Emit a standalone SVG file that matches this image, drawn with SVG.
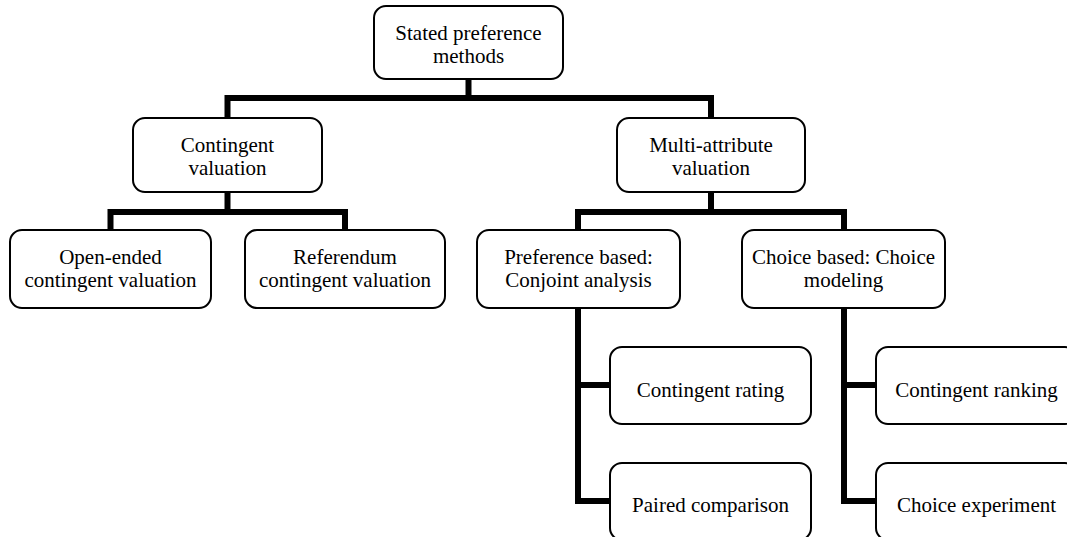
<svg xmlns="http://www.w3.org/2000/svg" width="1067" height="537" viewBox="0 0 1067 537">
<style>
.box{fill:#fff;stroke:#000;stroke-width:2}
.t{font-family:"Liberation Serif","Times New Roman",serif;font-size:21px;fill:#000;text-anchor:middle}
.c{fill:none;stroke:#000;stroke-width:6;stroke-linejoin:miter;stroke-linecap:butt}
</style>
<rect width="1067" height="537" fill="#fff"/>
<g id="connectors">
<path class="c" d="M468.5,79 V98"/>
<path class="c" d="M227.5,118 V98 H711 V118"/>
<path class="c" d="M227.5,192 V212"/>
<path class="c" d="M110.5,230 V212 H345 V230"/>
<path class="c" d="M711,192 V212"/>
<path class="c" d="M578,230 V212 H844 V230"/>
<path class="c" d="M578,308 V501 H610"/>
<path class="c" d="M578,385 H610"/>
<path class="c" d="M844,308 V501 H876"/>
<path class="c" d="M844,385 H876"/>
</g>
<g id="n-root"><rect class="box" x="374" y="6" width="189" height="73" rx="12"/><text class="t" x="468.5" y="40">Stated preference</text><text class="t" x="468.5" y="63">methods</text></g>
<g id="n-cv"><rect class="box" x="133" y="118" width="189" height="74" rx="12"/><text class="t" x="227.5" y="152">Contingent</text><text class="t" x="227.5" y="175">valuation</text></g>
<g id="n-mav"><rect class="box" x="617" y="118" width="188" height="74" rx="12"/><text class="t" x="711" y="152">Multi-attribute</text><text class="t" x="711" y="175">valuation</text></g>
<g id="n-open"><rect class="box" x="10" y="230" width="201" height="78" rx="12"/><text class="t" x="110.5" y="264">Open-ended</text><text class="t" x="110.5" y="287">contingent valuation</text></g>
<g id="n-ref"><rect class="box" x="245" y="230" width="200" height="78" rx="12"/><text class="t" x="345" y="264">Referendum</text><text class="t" x="345" y="287">contingent valuation</text></g>
<g id="n-pref"><rect class="box" x="477" y="230" width="203" height="78" rx="12"/><text class="t" x="578.5" y="264">Preference based:</text><text class="t" x="578.5" y="287">Conjoint analysis</text></g>
<g id="n-choice"><rect class="box" x="742" y="230" width="203" height="78" rx="12"/><text class="t" x="843.5" y="264">Choice based: Choice</text><text class="t" x="843.5" y="287">modeling</text></g>
<g id="n-rating"><rect class="box" x="610" y="347" width="201" height="77" rx="12"/><text class="t" x="710.5" y="397">Contingent rating</text></g>
<g id="n-paired"><rect class="box" x="610" y="463" width="201" height="77" rx="12"/><text class="t" x="710.5" y="512">Paired comparison</text></g>
<g id="n-ranking"><rect class="box" x="876" y="347" width="201" height="77" rx="12"/><text class="t" x="976.5" y="397">Contingent ranking</text></g>
<g id="n-exp"><rect class="box" x="876" y="463" width="201" height="77" rx="12"/><text class="t" x="976.5" y="512">Choice experiment</text></g>
</svg>
